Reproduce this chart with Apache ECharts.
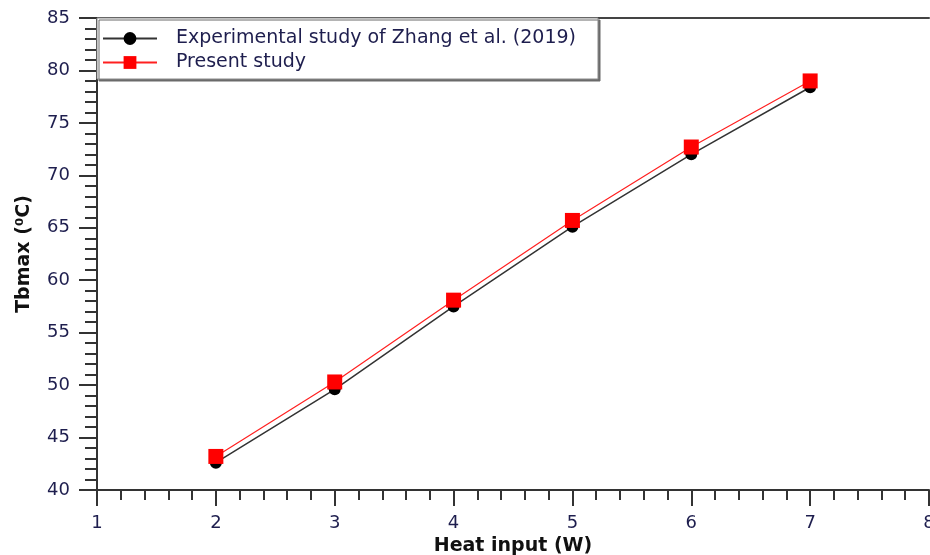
<!DOCTYPE html>
<html>
<head>
<meta charset="utf-8">
<script src="https://cdn.jsdelivr.net/npm/echarts@6/dist/echarts.min.js"></script>
<style>
  html, body { margin: 0; padding: 0; background: #fff; }
  #chart { width: 930px; height: 555px; }
</style>
</head>
<body>
<div id="chart"></div>
<script>
// Heat input (W) on the x axis
const heatInput = [2, 3, 4, 5, 6, 7];
// Maximum base temperature (°C)
const zhangExperimental = [42.6, 49.6, 57.5, 65.1, 72.0, 78.4];
const presentStudy = [43.2, 50.3, 58.1, 65.7, 72.7, 79.0];

const seriesNames = ['Experimental study of Zhang et al. (2019)', 'Present study'];

const FONT = 'DejaVu Sans';
const LABEL_COLOR = '#1e1e4e';
const AXIS_COLOR = '#333';

const pairs = (xs, ys) => xs.map((x, i) => [x, ys[i]]);

const chart = echarts.init(document.getElementById('chart'), null, { renderer: 'canvas' });

chart.setOption({
  backgroundColor: '#fff',
  animation: false,
  grid: { left: 97, right: 1, top: 18, bottom: 65, containLabel: false, outerBoundsMode: 'none' },
  graphic: [{
    type: 'rect',
    z: 3,
    shape: { x: 97, y: 18, width: 501, height: 61 },
    style: {
      fill: '#fff', stroke: '#8a8a8a', lineWidth: 1,
      shadowColor: '#6a6a6a', shadowOffsetX: 2, shadowOffsetY: 2, shadowBlur: 0
    }
  }],
  legend: {
    z: 10,
    orient: 'vertical',
    left: 102,
    top: 29,
    padding: 0,
    itemWidth: 54,
    itemHeight: 16,
    itemGap: 5,
    data: seriesNames,
    textStyle: { fontFamily: FONT, fontSize: 19, lineHeight: 16, color: LABEL_COLOR, padding: [0, 0, 0, 14] }
  },
  xAxis: [{
    type: 'value',
    min: 1, max: 8, interval: 1,
    name: 'Heat input (W)',
    nameLocation: 'middle',
    nameGap: 44,
    nameTextStyle: { fontFamily: FONT, fontSize: 19, fontWeight: 'bold', color: '#111' },
    axisLine: { onZero: false, lineStyle: { color: AXIS_COLOR, width: 2 } },
    axisTick: { show: true, inside: false, length: 16, lineStyle: { color: AXIS_COLOR, width: 2 } },
    minorTick: { show: true, splitNumber: 5, length: 10, lineStyle: { color: AXIS_COLOR, width: 2 } },
    axisLabel: { fontFamily: FONT, fontSize: 18, color: LABEL_COLOR, margin: 24 },
    splitLine: { show: false }
  }, {
    // plain frame line along the top edge
    type: 'value',
    position: 'top',
    min: 1, max: 8,
    axisLine: { show: true, lineStyle: { color: '#444', width: 2 } },
    axisTick: { show: false },
    axisLabel: { show: false },
    splitLine: { show: false }
  }],
  yAxis: {
    type: 'value',
    min: 40, max: 85, interval: 5,
    name: 'Tbmax (⁰C)',
    nameLocation: 'middle',
    nameGap: 63,
    nameTextStyle: { fontFamily: FONT, fontSize: 19, fontWeight: 'bold', color: '#111' },
    axisLine: { show: true, onZero: false, lineStyle: { color: AXIS_COLOR, width: 2 } },
    axisTick: { show: true, inside: false, length: 18, lineStyle: { color: AXIS_COLOR, width: 2 } },
    minorTick: { show: true, splitNumber: 5, length: 12, lineStyle: { color: AXIS_COLOR, width: 2 } },
    axisLabel: { fontFamily: FONT, fontSize: 18, color: LABEL_COLOR, margin: 27 },
    splitLine: { show: false }
  },
  series: [{
    name: seriesNames[0],
    type: 'line',
    data: pairs(heatInput, zhangExperimental),
    symbol: 'circle',
    symbolSize: 12,
    itemStyle: { color: '#000' },
    lineStyle: { color: '#333', width: 1.5 },
    z: 3
  }, {
    name: seriesNames[1],
    type: 'line',
    data: pairs(heatInput, presentStudy),
    symbol: 'rect',
    symbolSize: 15,
    itemStyle: { color: '#ff0000' },
    lineStyle: { color: '#ff2020', width: 1.2 },
    z: 4
  }]
});
</script>
</body>
</html>
